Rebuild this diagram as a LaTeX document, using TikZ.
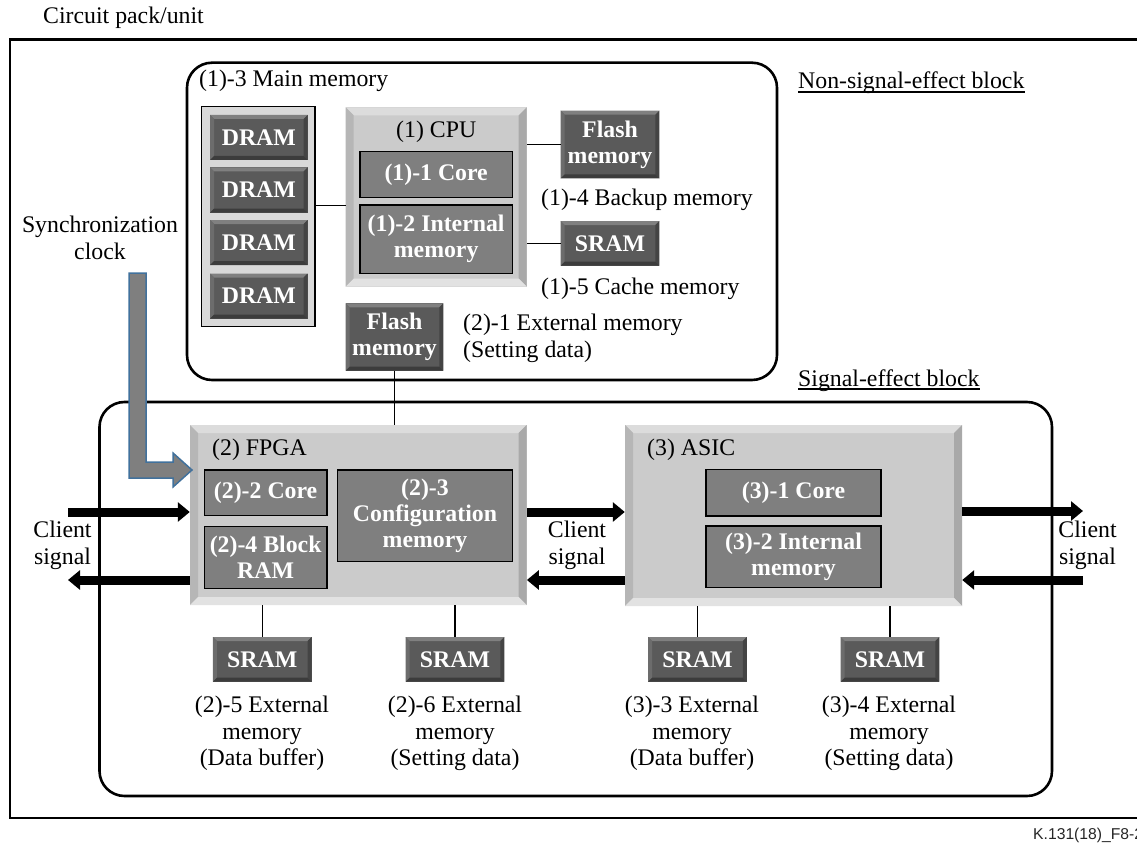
\documentclass[tikz,border=0pt]{standalone}
\usepackage{fontspec}
\setmainfont{Liberation Serif}
\newfontfamily\figsans{Liberation Sans}
\usetikzlibrary{arrows.meta,calc}

\newcommand\mainsize{\fontsize{23.8pt}{26.7pt}\selectfont}

\definecolor{chipface}{HTML}{5A5A5A}
\definecolor{chiptop}{HTML}{808080}
\definecolor{chipleft}{HTML}{6C6C6C}
\definecolor{chipright}{HTML}{444444}
\definecolor{chipbottom}{HTML}{3C3C3C}
\definecolor{lightface}{HTML}{CBCBCB}
\definecolor{lighttop}{HTML}{DCDCDC}
\definecolor{lightleft}{HTML}{B6B6B6}
\definecolor{lightright}{HTML}{A9A9A9}
\definecolor{lightbottom}{HTML}{E2E2E2}
\definecolor{flatgray}{HTML}{7F7F7F}
\definecolor{groupgray}{HTML}{D9D9D9}
\definecolor{syncedge}{HTML}{41719C}

\tikzset{
  bevelled/.style n args={5}{path picture={
    \path (path picture bounding box.south west) coordinate (bSW)
          (path picture bounding box.north east) coordinate (bNE);
    \path ($(bSW)+(#1,#1)$) coordinate (iSW) ($(bNE)-(#1,#1)$) coordinate (iNE);
    \fill[#2] (bSW|-bNE) -- (bNE) -- (iNE) -- (iSW|-iNE) -- cycle;
    \fill[#3] (bSW|-bNE) -- (bSW) -- (iSW) -- (iSW|-iNE) -- cycle;
    \fill[#4] (bNE) -- (bNE|-bSW) -- (iNE|-iSW) -- (iNE) -- cycle;
    \fill[#5] (bSW) -- (bNE|-bSW) -- (iNE|-iSW) -- (iSW) -- cycle;
  }},
  sz/.style 2 args={minimum width=#1pt, minimum height=#2pt},
  txt/.style={inner sep=0pt, font=\mainsize},
  chip/.style={fill=chipface, inner sep=0pt, text=white, align=center,
    font=\mainsize\bfseries,
    bevelled={4pt}{chiptop}{chipleft}{chipright}{chipbottom}},
  device/.style={fill=lightface, inner sep=0pt,
    bevelled={8pt}{lighttop}{lightleft}{lightright}{lightbottom}},
  flatbox/.style={draw=black, line width=1.4pt, fill=flatgray, inner sep=0pt,
    text=white, align=center, font=\mainsize\bfseries},
  block/.style={draw=black, line width=2.6pt, rounded corners=25pt, inner sep=0pt},
  frame/.style={draw=black, line width=2.6pt},
  conn/.style={draw=black, line width=1.2pt},
  bigarrow/.style={draw=black, line width=9pt, -{Triangle[length=12pt,width=19pt]}},
  syncarrow/.style={fill=flatgray, draw=syncedge, line width=1.5pt, line join=miter},
}

\begin{document}
\begin{tikzpicture}[x=1pt,y=-1pt]
\useasboundingbox (0,0) rectangle (1137,845);

% circuit pack frame (open to the right)
\draw[frame] (1137,39.5) -- (10,39.5) -- (10,818) -- (1137,818);
\node[txt, anchor=west] (circuit) at (43,18) {Circuit pack/unit};

% the two blocks
\node[block, sz={590}{317.3}] (nonsig) at (482,221.35) {};
\node[block, sz={952.5}{394}] (sig) at (575.75,599) {};
\node[txt, anchor=base west] (nonsiglbl) at (798,89) {Non-signal-effect block};
\draw[line width=1.3pt] ([yshift=-3pt]nonsiglbl.base west) -- ([yshift=-3pt]nonsiglbl.base east);
\node[txt, anchor=base west] (siglbl) at (798,386) {Signal-effect block};
\draw[line width=1.3pt] ([yshift=-3pt]siglbl.base west) -- ([yshift=-3pt]siglbl.base east);

% ---------- non-signal-effect block ----------
\node[txt, anchor=west] (mainmem) at (199,80.5) {(1)-3 Main memory};
\node[draw=black, line width=1.3pt, fill=groupgray, sz={113.3}{220}] (dramgrp) at (258.35,216.7) {};
\node[chip, sz={97.7}{45}] (dram1) at (258.85,137.5) {DRAM};
\node[chip, sz={97.7}{45}] (dram2) at (258.85,190) {DRAM};
\node[chip, sz={97.7}{45}] (dram3) at (258.85,242.5) {DRAM};
\node[chip, sz={97.7}{45}] (dram4) at (258.85,296) {DRAM};

\node[device, sz={181}{179.4}] (cpu) at (436.2,197) {};
\node[txt] (cpulbl) at (436.2,132) {(1) CPU};
\node[flatbox, sz={152.3}{46}] (core1) at (436.15,174.7) {(1)-1 Core};
\node[flatbox, sz={152.3}{68.3}] (intmem1) at (436.15,239.15) {(1)-2 Internal\\[-1pt]memory};

\node[chip, sz={98.6}{67.6}] (flashA) at (610,144.5) {Flash\\[-1pt]memory};
\node[txt, anchor=west] (backup) at (541,200) {(1)-4 Backup memory};
\node[chip, sz={98.6}{44.7}] (sramA) at (610,243.35) {SRAM};
\node[txt, anchor=west] (cache) at (541,288.5) {(1)-5 Cache memory};

\node[chip, sz={97.6}{67.4}] (flashB) at (394.5,337) {Flash\\[-1pt]memory};
\node[txt, anchor=west, align=left] (extmem) at (463,338.5) {(2)-1 External memory\\(Setting data)};

\draw[conn] ([yshift=-8.6pt]cpu.west) coordinate (dc) -- (dc -| dramgrp.east);
\draw[conn] (flashA.west) -- (flashA.west -| cpu.east);
\draw[conn] (sramA.west) -- (sramA.west -| cpu.east);

% ---------- signal-effect block ----------
\node[device, sz={336.7}{180}] (fpga) at (358.35,515) {};
\node[txt, anchor=west] (fpgalbl) at (212,450) {(2) FPGA};
\node[flatbox, sz={122.7}{45.7}] (core2) at (265.65,492.85) {(2)-2 Core};
\node[flatbox, sz={122.7}{61.6}] (bram) at (265.65,557.5) {(2)-4 Block\\[-1pt]RAM};
\node[flatbox, sz={175.4}{91.7}] (cfg) at (425,515.85) {(2)-3\\[-1pt]Configuration\\[-1pt]memory};

\node[device, sz={337}{181}] (asic) at (793.5,515.5) {};
\node[txt, anchor=west] (asiclbl) at (647,450) {(3) ASIC};
\node[flatbox, sz={175}{46.7}] (core3) at (793.5,492.65) {(3)-1 Core};
\node[flatbox, sz={175}{61.7}] (intmem3) at (793.5,556.85) {(3)-2 Internal\\[-1pt]memory};

\draw[conn] (flashB.south) -- (flashB.south |- fpga.north);

% external SRAMs
\node[chip, sz={98.6}{44.7}] (sram1) at (262.2,659.35) {SRAM};
\node[chip, sz={98.6}{44.7}] (sram2) at (455,659.35) {SRAM};
\node[chip, sz={98.6}{44.7}] (sram3) at (697.5,659.35) {SRAM};
\node[chip, sz={98.6}{44.7}] (sram4) at (890,659.35) {SRAM};
\draw[conn] (sram1.north) -- (sram1.north |- fpga.south);
\draw[conn] (sram2.north) -- (sram2.north |- fpga.south);
\draw[conn] (sram3.north) -- (sram3.north |- asic.south);
\draw[conn] (sram4.north) -- (sram4.north |- asic.south);

\node[txt, align=center] (ext25) at (262,733.5) {(2)-5 External\\memory\\(Data buffer)};
\node[txt, align=center] (ext26) at (455,733.5) {(2)-6 External\\memory\\(Setting data)};
\node[txt, align=center] (ext33) at (692,733.5) {(3)-3 External\\memory\\(Data buffer)};
\node[txt, align=center] (ext34) at (889,733.5) {(3)-4 External\\memory\\(Setting data)};

% client signal paths
\coordinate (lin) at (68,512);
\coordinate (lout) at (68,580);
\coordinate (rin) at (1083,511);
\coordinate (rout) at (1083,580);
\draw[bigarrow] (lin) -- (lin -| fpga.west);
\draw[bigarrow] (lout -| fpga.west) -- (lout);
\draw[bigarrow] (fpga.east |- lin) -- (asic.west |- lin);
\draw[bigarrow] (asic.west |- lout) -- (fpga.east |- lout);
\draw[bigarrow] (asic.east |- rin) -- (rin);
\draw[bigarrow] (rout) -- (asic.east |- rout);
\node[txt, align=center] (cl) at (62.5,545) {Client\\signal};
\node[txt, align=center] (cm) at (577,545) {Client\\signal};
\node[txt, align=center] (cr) at (1087.5,545) {Client\\signal};

% synchronization clock feed into the FPGA
\node[txt, align=center] (synclbl) at (100,238) {Synchronization\\clock};
\draw[syncarrow] (129,273) -- (146,273) -- (146,462) -- (173,462) -- (173,453)
  -- (192,470) -- (173,487) -- (173,478) -- (129,478) -- cycle;

% figure tag
\node[inner sep=0pt, anchor=west, font=\figsans\fontsize{15.7pt}{17pt}\selectfont, text=black!85] (tag) at (1033,835) {K.131(18)\_F8-2};

\end{tikzpicture}
\end{document}
